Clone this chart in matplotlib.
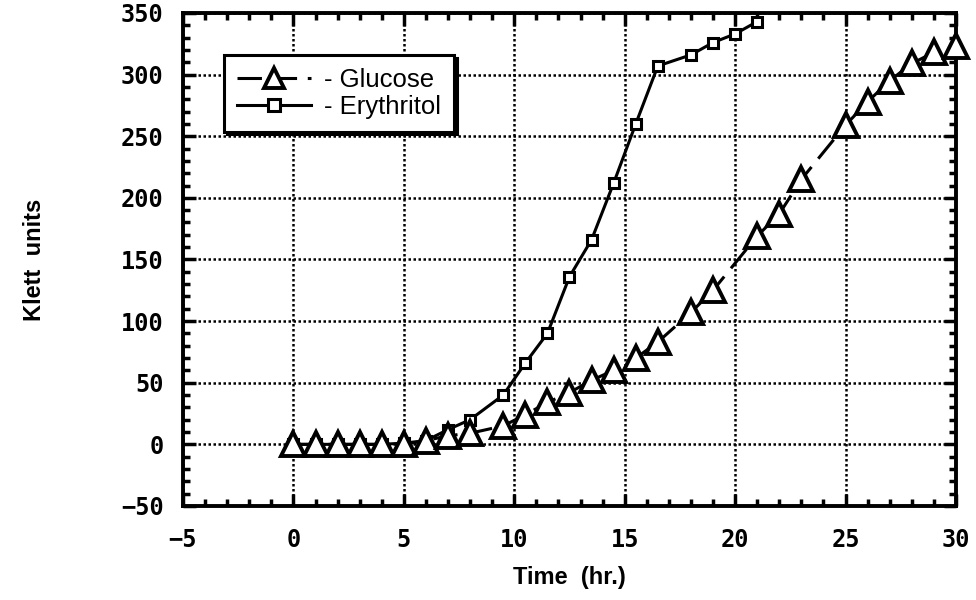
import matplotlib
matplotlib.use("Agg")
import matplotlib.pyplot as plt
from matplotlib.ticker import MultipleLocator

# growth data
glucose_t = [0, 1, 2, 3, 4, 5, 6, 7, 8, 9.5, 10.5, 11.5, 12.5, 13.5, 14.5, 15.5,
             16.5, 18, 19, 21, 22, 23, 25, 26, 27, 28, 29, 30]
glucose_k = [0, 0, 0, 0, 0, 0, 3, 7, 9, 15, 24, 34, 42, 52, 60, 70,
             83, 107, 125, 169, 187, 215, 259, 278, 295, 309, 318, 323]

ery_t = [0, 1, 2, 3, 4, 5, 6, 7, 8, 9.5, 10.5, 11.5, 12.5, 13.5, 14.5, 15.5,
         16.5, 18, 19, 20, 21]
ery_k = [0, 0, 0, 0, 0, 1, 3, 12, 20, 40, 66, 90, 136, 166, 212, 260,
         307, 316, 326, 333, 343]

x_ticks = [-5, 0, 5, 10, 15, 20, 25, 30]
y_ticks = [-50, 0, 50, 100, 150, 200, 250, 300, 350]

fig = plt.figure(figsize=(9.76, 6.0), dpi=100)
ax = fig.add_axes([0.1875, 0.1567, 0.792, 0.8217])

ax.plot(ery_t, ery_k, '-', color='black', lw=2.2, marker='s', ms=7.5,
        mfc='white', mec='black', mew=2.2, label='- Erythritol', zorder=3,
        clip_on=False)
ax.plot(glucose_t, glucose_k, '--', dashes=(8, 3.5), color='black', lw=2.2,
        marker='^', ms=17, mfc='white', mec='black', mew=2.8,
        label='- Glucose', zorder=4, clip_on=False)

ax.set_xlim(-5, 30)
ax.set_ylim(-50, 350)
ax.set_xticks(x_ticks)
ax.set_yticks(y_ticks)
ax.xaxis.set_minor_locator(MultipleLocator(1))
ax.yaxis.set_minor_locator(MultipleLocator(10))
ax.tick_params(which='both', direction='in', top=True, right=True, width=2.5)
ax.tick_params(which='major', length=9)
ax.tick_params(axis='x', which='major', pad=16)
ax.tick_params(axis='y', which='major', pad=14)
ax.tick_params(which='minor', length=5)

ax.grid(True, which='major', color='black', linestyle=(0, (1, 1)), lw=1.8)
ax.set_axisbelow(True)
for s in ax.spines.values():
    s.set_linewidth(2.8)

for lab in ax.get_xticklabels() + ax.get_yticklabels():
    lab.set_fontfamily('DejaVu Sans Mono')
    lab.set_fontweight('bold')
    lab.set_fontsize(17)

ax.set_xlabel('Time  (hr.)', fontsize=17, fontweight='bold',
              family='Liberation Sans', labelpad=10)
ax.set_ylabel('Klett  units', fontsize=17, fontweight='bold',
              family='Liberation Sans', labelpad=54)

handles, labels = ax.get_legend_handles_labels()
leg = ax.legend(handles[::-1], labels[::-1], loc='upper left',
                bbox_to_anchor=(0.053, 0.915), borderaxespad=0,
                fancybox=False, shadow={'color': 'black', 'alpha': 1},
                prop={'family': 'Liberation Sans', 'size': 18.5},
                handlelength=2.9, handletextpad=0.5, borderpad=0.5,
                labelspacing=0.12, framealpha=1, edgecolor='black')
leg.get_frame().set_linewidth(2.2)
leg.legend_handles[0].set_markersize(15)
leg.legend_handles[1].set_markersize(9)

fig.savefig('out.png', dpi=100)
